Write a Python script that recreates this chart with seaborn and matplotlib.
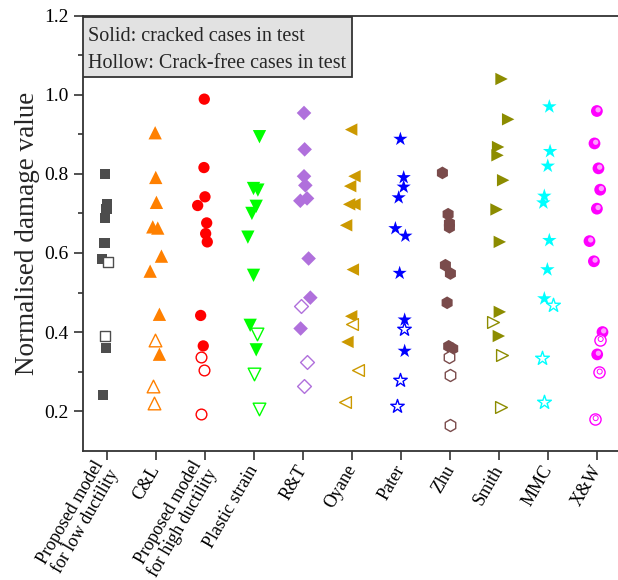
import matplotlib
matplotlib.use("Agg")
import matplotlib.pyplot as plt
from matplotlib.markers import MarkerStyle
from matplotlib.transforms import Affine2D
from matplotlib.patches import Rectangle
import pandas as pd
import seaborn as sns

# Damage criteria compared along the x axis
categories = [
    "Proposed model\nfor low ductility", "C&L", "Proposed model\nfor high ductility",
    "Plastic strain", "R&T", "Oyane", "Pater", "Zhu", "Smith", "MMC", "X&W",
]

# Normalised damage values: cracked cases (solid) and crack-free cases (hollow)
low_cracked = [0.80, 0.723, 0.712, 0.689, 0.626, 0.584, 0.36, 0.24]
low_free = [0.577, 0.39]
cl_cracked = [0.904, 0.791, 0.728, 0.666, 0.663, 0.592, 0.554, 0.445, 0.344]
cl_free = [0.381, 0.2625, 0.22]
high_cracked = [0.989, 0.816, 0.742, 0.72, 0.676, 0.649, 0.628, 0.442, 0.365]
high_free = [0.338, 0.305, 0.194]
plastic_cracked = [0.894, 0.763, 0.759, 0.718, 0.70, 0.64, 0.5435, 0.417, 0.355]
plastic_free = [0.394, 0.295, 0.206]
rt_cracked = [0.954, 0.862, 0.794, 0.771, 0.738, 0.732, 0.586, 0.487, 0.409]
rt_free = [0.467, 0.324, 0.2625]
oyane_cracked = [0.912, 0.794, 0.769, 0.723, 0.723, 0.67, 0.558, 0.44, 0.375]
oyane_free = [0.4195, 0.305, 0.223]
pater_cracked = [0.888, 0.791, 0.767, 0.74, 0.662, 0.643, 0.549, 0.431, 0.352]
pater_free = [0.409, 0.28, 0.212]
zhu_cracked = [0.8025, 0.698, 0.675, 0.665, 0.569, 0.548, 0.474, 0.364, 0.358]
zhu_free = [0.338, 0.292, 0.166]
smith_cracked = [1.04, 0.938, 0.868, 0.847, 0.784, 0.71, 0.628, 0.451, 0.39]
smith_free = [0.425, 0.341, 0.21]
mmc_cracked = [0.97, 0.857, 0.82, 0.744, 0.727, 0.632, 0.558, 0.4846]
mmc_free = [0.4676, 0.335, 0.223]
xw_cracked = [0.959, 0.877, 0.814, 0.76, 0.712, 0.63, 0.579, 0.40, 0.3435]
xw_free = [0.381, 0.2987, 0.181]

cracked = [low_cracked, cl_cracked, high_cracked, plastic_cracked, rt_cracked,
           oyane_cracked, pater_cracked, zhu_cracked, smith_cracked, mmc_cracked,
           xw_cracked]
crack_free = [low_free, cl_free, high_free, plastic_free, rt_free, oyane_free,
              pater_free, zhu_free, smith_free, mmc_free, xw_free]

# Horizontal scatter of the points within each column (category units)
cracked_jitter = [
    [-0.039, 0.002, -0.012, -0.039, -0.053, -0.108, -0.027, -0.080],
    [-0.022, -0.010, 0.004, -0.071, 0.031, 0.106, -0.124, 0.065, 0.065],
    [-0.020, -0.027, -0.006, -0.155, 0.029, 0.008, 0.041, -0.094, -0.041],
    [0.106, -0.016, 0.073, 0.039, -0.049, -0.131, -0.016, -0.084, 0.039],
    [0.014, 0.027, 0.014, 0.041, 0.076, -0.061, 0.108, 0.143, -0.055],
    [-0.024, 0.043, -0.045, -0.065, 0.043, -0.127, 0.010, -0.024, -0.100],
    [-0.020, 0.047, 0.047, -0.055, -0.122, 0.082, -0.035, 0.067, 0.067],
    [-0.163, -0.047, -0.020, -0.020, -0.102, 0.000, -0.067, -0.035, 0.047],
    [0.043, 0.178, -0.027, -0.039, 0.076, -0.059, 0.008, 0.008, -0.012],
    [0.018, 0.033, -0.014, -0.084, -0.104, 0.018, -0.022, -0.084],
    [-0.012, -0.061, 0.020, 0.055, -0.012, -0.163, -0.073, 0.102, -0.006],
]
free_jitter = [
    [0.014, -0.039], [-0.022, -0.063, -0.037], [-0.082, -0.027, -0.082],
    [0.053, -0.002, 0.086], [-0.041, 0.082, 0.014], [0.002, 0.112, -0.147],
    [0.047, -0.020, -0.088], [-0.035, 0.000, -0.014], [-0.129, 0.043, 0.022],
    [0.100, -0.137, -0.084], [0.049, 0.029, -0.053],
]

colors = ["#4d4d4d", "#ff8000", "#ff0000", "#00ff00", "#b070dc", "#cc9900",
          "#0000ff", "#7a4b4b", "#8c8c00", "#00ffff", "#ff00ff"]
markers = ["s", "^", "o", "v", "D", "<", "*", "h", ">", "*", "o"]
sizes = [55, 92, 66, 92, 55, 80, 115, 84, 80, 120, 72]

rows = []
for i in range(len(categories)):
    for v, dx in zip(cracked[i], cracked_jitter[i]):
        rows.append({"idx": i, "x": i + dx, "value": v, "state": "cracked"})
    for v, dx in zip(crack_free[i], free_jitter[i]):
        rows.append({"idx": i, "x": i + dx, "value": v, "state": "free"})
df = pd.DataFrame(rows)

sns.set_style("ticks")
plt.rcParams["font.family"] = ["Liberation Serif", "DejaVu Serif"]

fig = plt.figure(figsize=(6.18, 5.8), dpi=100)
ax = fig.add_axes([82.7 / 618, 1 - 450.7 / 580, (622 - 82.7) / 618, (450.7 - 15.7) / 580])

sphere = len(categories) - 1
for i, name in enumerate(categories):
    c = colors[i]
    solid = df[(df.idx == i) & (df.state == "cracked")]
    hollow = df[(df.idx == i) & (df.state == "free")]
    sns.scatterplot(data=solid, x="x", y="value", marker=markers[i], s=sizes[i],
                    color=c, edgecolor="none", linewidth=0, ax=ax, legend=False,
                    zorder=3)
    if i == sphere:
        # shaded-ball look: a soft highlight on each filled ball
        glint = MarkerStyle("o", transform=Affine2D().scale(0.45).translate(0.1, 0.1))
        sns.scatterplot(data=solid, x="x", y="value", marker=glint, s=sizes[i],
                        color="#ff9cff", edgecolor="none", linewidth=0, ax=ax,
                        legend=False, zorder=3.5)
    sns.scatterplot(data=hollow, x="x", y="value", marker=markers[i], s=sizes[i] * 0.9,
                    color="white", edgecolor=c, linewidth=1.0, ax=ax, legend=False,
                    zorder=4)
    if i == sphere:
        inner = MarkerStyle("o", transform=Affine2D().scale(0.45).translate(0.07, 0.05))
        sns.scatterplot(data=hollow, x="x", y="value", marker=inner, s=sizes[i] * 0.9,
                        facecolor="none", edgecolor=c, linewidth=0.7, ax=ax,
                        legend=False, zorder=4.5)

ax.set_xlim(-0.5, 10.5)
ax.set_ylim(0.1, 1.2)
ax.set_yticks([0.2, 0.4, 0.6, 0.8, 1.0, 1.2])
ax.set_yticklabels(["0.2", "0.4", "0.6", "0.8", "1.0", "1.2"])
ax.set_yticks([0.3, 0.5, 0.7, 0.9, 1.1], minor=True)
ax.set_xticks(range(len(categories)))
ax.set_xticklabels(categories, rotation=60, ha="right", va="center",
                   rotation_mode="anchor", fontsize=13, linespacing=1.0)
ax.set_xlabel("")
ax.set_ylabel("Normalised damage value", fontsize=19.5, labelpad=3)

spine_c = "#333333"
for side in ["left", "bottom", "top"]:
    ax.spines[side].set_color(spine_c)
    ax.spines[side].set_linewidth(1.3)
ax.spines["right"].set_visible(False)
ax.tick_params(axis="both", which="major", direction="out", length=6.3, width=1.2,
               color=spine_c, labelcolor="black")
ax.tick_params(axis="y", which="major", labelsize=14, pad=4)
ax.tick_params(axis="y", which="minor", direction="out", length=3.5, width=1.2,
               color=spine_c)
ax.tick_params(axis="x", pad=5)

# Key explaining solid vs hollow symbols
ax.add_patch(Rectangle((0.001, 0.8598), 0.4977, 0.1365, transform=ax.transAxes,
                       facecolor="#e2e2e2", edgecolor=spine_c, linewidth=1.3,
                       zorder=5))
ax.text(0.0093, 0.9425, "Solid: cracked cases in test", transform=ax.transAxes,
        fontsize=14.5, va="baseline", ha="left", zorder=6)
ax.text(0.0093, 0.8791, "Hollow: Crack-free cases in test", transform=ax.transAxes,
        fontsize=14.5, va="baseline", ha="left", zorder=6)

fig.savefig("out.png", dpi=100)
